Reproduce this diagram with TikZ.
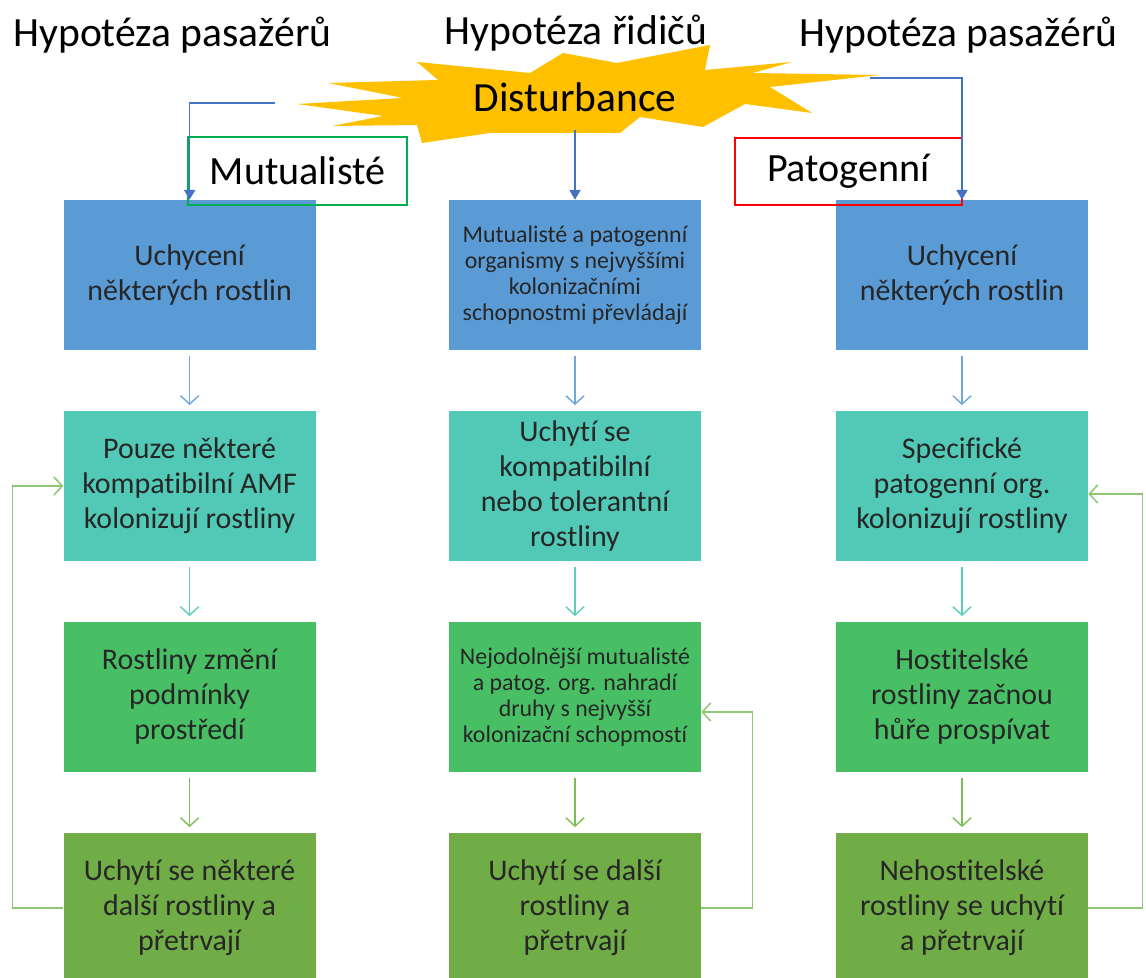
\documentclass[tikz,border=0pt]{standalone}
\usepackage{fontspec}
\setmainfont{Carlito}[Ligatures=NoCommon]
\usepackage{xcolor}
\usepackage{tikz}
\usetikzlibrary{arrows.meta}

\definecolor{rowblue}{HTML}{5B9BD5}
\definecolor{rowteal}{HTML}{52C9B6}
\definecolor{rowgreen}{HTML}{48BF65}
\definecolor{rowolive}{HTML}{70AD47}
\definecolor{burst}{HTML}{FFC000}
\definecolor{linkblue}{HTML}{4472C4}
\definecolor{arrowblue}{HTML}{6FA6DC}
\definecolor{arrowteal}{HTML}{5CCFBA}
\definecolor{arrowgreen}{HTML}{7DBF55}
\definecolor{loopgreen}{HTML}{8FC873}
\definecolor{framegreen}{HTML}{00B050}

\begin{document}
\begin{tikzpicture}
        \tikzset{box style/.style={rectangle, minimum width=6.3cm, minimum height=3.75cm, inner sep=0pt, align=center, text=black!85, font=\fontsize{21.3}{24.9}\selectfont}}
        \tikzset{small text/.style={font=\fontsize{17}{18.6}\selectfont}}
        \tikzset{title style/.style={anchor=base, font=\fontsize{29.6}{34}\selectfont}}
        \tikzset{frame style/.style={rectangle, inner sep=0pt, font=\fontsize{28.5}{34}\selectfont}}
        \tikzset{step arrow/.style={line width=1pt, -{Straight Barb[length=6pt,width=13pt]}, shorten <=4pt, shorten >=4pt}}
        \tikzset{link arrow/.style={line width=1pt, color=linkblue, -{Triangle[length=7pt,width=8pt]}}}
        \tikzset{loop arrow/.style={line width=1.1pt, color=loopgreen, -{Straight Barb[length=6pt,width=13pt]}}}

        \useasboundingbox (0,0) rectangle (28.65,24.45);

        % hypotheses
        \node[title style] (hypleft) at (4.31,23.28) {Hypotéza pasažérů};
        \node[title style] (hypmid) at (14.4,23.33) {Hypotéza řidičů};
        \node[title style] (hypright) at (23.96,23.28) {Hypotéza pasažérů};

        % disturbance
        \fill[burst] (7.425,21.85) -- (10.075,22.0) -- (8.2,22.375) -- (10.95,22.45) -- (10.425,22.9)
            -- (13.25,22.625) -- (14.075,23.125) -- (15.425,22.875) -- (17.75,23.325) -- (17.625,22.7)
            -- (19.8,22.9) -- (18.825,22.625) -- (22.0,22.575) -- (19.25,22.275) -- (20.3,21.625)
            -- (18.625,21.85) -- (17.575,21.275) -- (16.0,21.525) -- (15.5,21.125) -- (12.25,21.125)
            -- (10.55,20.875) -- (10.425,21.325) -- (8.3,21.3) -- (9.575,21.55) -- cycle;
        \node[font=\fontsize{29.5}{34}\selectfont] (dist) at (14.375,22.025) {Disturbance};
        \coordinate (burstleft) at (6.875,21.875);
        \coordinate (burstbottom) at (14.375,21.2);
        \coordinate (burstright) at (21.75,22.5);

        % columns
        \node[box style, fill=rowblue] (c1r1) at (4.74,17.575) {Uchycení\\některých rostlin};
        \node[box style, fill=rowblue, small text] (c2r1) at (14.375,17.575) {Mutualisté a patogenní\\organismy s nejvyššími\\kolonizačními\\schopnostmi převládají};
        \node[box style, fill=rowblue] (c3r1) at (24.05,17.575) {Uchycení\\některých rostlin};

        \node[box style, fill=rowteal] (c1r2) at (4.74,12.3) {Pouze některé\\kompatibilní AMF\\kolonizují rostliny};
        \node[box style, fill=rowteal] (c2r2) at (14.375,12.3) {Uchytí se\\kompatibilní\\nebo tolerantní\\rostliny};
        \node[box style, fill=rowteal] (c3r2) at (24.05,12.3) {Specifické\\patogenní org.\\kolonizují rostliny};

        \node[box style, fill=rowgreen] (c1r3) at (4.74,7.025) {Rostliny změní\\podmínky\\prostředí};
        \node[box style, fill=rowgreen, small text] (c2r3) at (14.375,7.025) {Nejodolnější mutualisté\\a patog. org. nahradí\\druhy s nejvyšší\\kolonizační schopmostí};
        \node[box style, fill=rowgreen] (c3r3) at (24.05,7.025) {Hostitelské\\rostliny začnou\\hůře prospívat};

        \node[box style, fill=rowolive] (c1r4) at (4.74,1.75) {Uchytí se některé\\další rostliny a\\přetrvají};
        \node[box style, fill=rowolive] (c2r4) at (14.375,1.75) {Uchytí se další\\rostliny a\\přetrvají};
        \node[box style, fill=rowolive] (c3r4) at (24.05,1.75) {Nehostitelské\\rostliny se uchytí\\a přetrvají};

        % labels
        \node[frame style, draw=framegreen, line width=1.4pt, minimum width=5.475cm, minimum height=1.7cm] (mutual) at (7.44,20.175) {Mutualisté};
        \node[frame style, draw=red, line width=0.9pt, minimum width=5.675cm, minimum height=1.675cm] (patog) at (21.21,20.16) {Patogenní};

        % from disturbance
        \draw[link arrow] (burstleft) -| (c1r1.north);
        \draw[link arrow] (burstbottom) -- (c2r1.north);
        \draw[link arrow] (burstright) -| (c3r1.north);

        % steps
        \draw[step arrow, color=arrowblue] (c1r1.south) -- (c1r2.north);
        \draw[step arrow, color=arrowblue] (c2r1.south) -- (c2r2.north);
        \draw[step arrow, color=arrowblue] (c3r1.south) -- (c3r2.north);
        \draw[step arrow, color=arrowteal] (c1r2.south) -- (c1r3.north);
        \draw[step arrow, color=arrowteal] (c2r2.south) -- (c2r3.north);
        \draw[step arrow, color=arrowteal] (c3r2.south) -- (c3r3.north);
        \draw[step arrow, color=arrowgreen] (c1r3.south) -- (c1r4.north);
        \draw[step arrow, color=arrowgreen] (c2r3.south) -- (c2r4.north);
        \draw[step arrow, color=arrowgreen] (c3r3.south) -- (c3r4.north);

        % feedback
        \draw[loop arrow] (c1r4.west) -- ++(-1.275,0) |- (c1r2.west);
        \draw[loop arrow] (c2r4.east) -- ++(1.275,0) |- ([yshift=-0.375cm]c2r3.east);
        \draw[loop arrow] (c3r4.east) -- ++(1.35,0) |- ([yshift=-0.2cm]c3r2.east);
    \end{tikzpicture}
\end{document}
